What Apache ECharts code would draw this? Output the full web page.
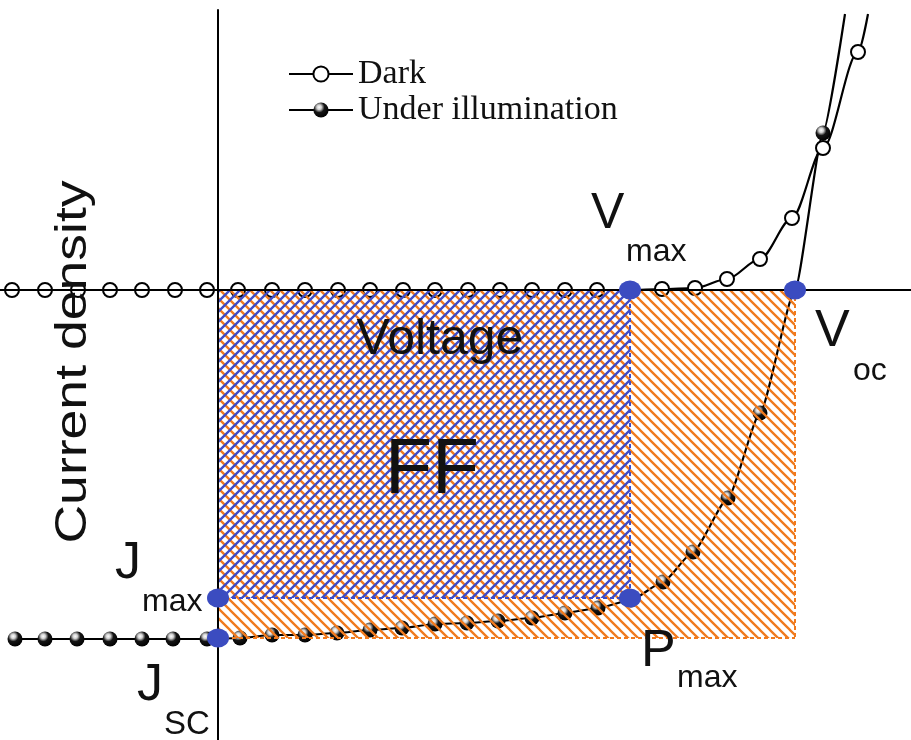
<!DOCTYPE html>
<html>
<head>
<meta charset="utf-8">
<style>
  html, body { margin: 0; padding: 0; background: #fff; }
  #chart { width: 911px; height: 740px; }
</style>
<script src="https://cdn.jsdelivr.net/npm/echarts@6/dist/echarts.min.js"></script>
</head>
<body>
<div id="chart"></div>
<script>
// ---- data (arbitrary units: voltage on x, current density on y) ----
var darkV = [-2.06, -1.73, -1.40, -1.08, -0.76, -0.43, -0.11, 0.20, 0.54, 0.87, 1.20, 1.52, 1.85, 2.17, 2.50, 2.82, 3.14, 3.47, 3.79, 4.12, 4.44, 4.77, 5.09, 5.42, 5.74, 6.05, 6.40, 6.50];
var darkJ = [0, 0, 0, 0, 0, 0, 0, 0, 0, 0, 0, 0, 0, 0, 0, 0, 0, 0, 0, 0, 0.01, 0.02, 0.11, 0.31, 0.72, 1.42, 2.38, 2.76];

var illumV = [-2.03, -1.73, -1.41, -1.08, -0.76, -0.45, -0.11, 0.22, 0.54, 0.87, 1.19, 1.52, 1.84, 2.17, 2.49, 2.80, 3.14, 3.47, 3.80, 4.13, 4.45, 4.75, 5.10, 5.42, 5.77, 6.05, 6.27];
var illumJ = [-3.49, -3.49, -3.49, -3.49, -3.49, -3.49, -3.49, -3.48, -3.45, -3.45, -3.43, -3.40, -3.38, -3.34, -3.33, -3.31, -3.28, -3.23, -3.18, -3.10, -2.92, -2.62, -2.08, -1.23, 0, 1.57, 2.76];

// key points
var Voc = 5.77, Jsc = -3.48, Vmax = 4.12, Jmax = -3.08;
var keyPointNames = ['Jsc', 'Jmax', 'Vmax', 'Pmax', 'Voc'];
var keyPointV = [0, 0, Vmax, Vmax, Voc];
var keyPointJ = [Jsc, Jmax, 0, Jmax, 0];

// rectangles: [x0, y0, x1, y1]
var orangeRegion = [[0, Jsc, Voc, 0]];
var blueRegion = [[0, Jmax, Vmax, 0]];

var seriesNames = ['Dark', 'Under illumination'];

// ---- styling ----
var ORANGE = '#F07A1E';
var BLUE_LINE = '#3F4CC6';
var BLUE_DOT = '#3B4CC0';
var SANS = '"Liberation Sans", Arial, sans-serif';
var SERIF = '"Liberation Serif", "Times New Roman", serif';

function makeHatch(color, dir) {
  var s = 10;
  var c = document.createElement('canvas');
  c.width = s; c.height = s;
  var g = c.getContext('2d');
  g.strokeStyle = color;
  g.lineWidth = 2.3;
  g.beginPath();
  if (dir === 'back') {
    g.moveTo(-2, -2); g.lineTo(s + 2, s + 2);
    g.moveTo(-2, s - 2); g.lineTo(2, s + 2);
    g.moveTo(s - 2, -2); g.lineTo(s + 2, 2);
  } else {
    g.moveTo(-2, s + 2); g.lineTo(s + 2, -2);
    g.moveTo(-2, 2); g.lineTo(2, -2);
    g.moveTo(s - 2, s + 2); g.lineTo(s + 2, s - 2);
  }
  g.stroke();
  return { image: c, repeat: 'repeat' };
}
var orangePattern = makeHatch(ORANGE, 'back');
var bluePattern = makeHatch(BLUE_LINE, 'fwd');

function pairs(xs, ys) {
  return xs.map(function (x, i) {
    var item = { value: [x, ys[i]] };
    if (i === xs.length - 1) item.symbol = 'none';
    return item;
  });
}

function regionRenderer(pattern, edgeColor) {
  return function (params, api) {
    var x0 = api.value(0), y0 = api.value(1), x1 = api.value(2), y1 = api.value(3);
    var pTL = api.coord([x0, y1]);
    var pBR = api.coord([x1, y0]);
    var dash = { stroke: edgeColor, lineWidth: 2, lineDash: [4, 3] };
    return {
      type: 'group',
      children: [
        { type: 'rect', shape: { x: pTL[0], y: pTL[1], width: pBR[0] - pTL[0], height: pBR[1] - pTL[1] },
          style: { fill: pattern } },
        { type: 'line', shape: { x1: pBR[0], y1: pTL[1], x2: pBR[0], y2: pBR[1] }, style: dash },
        { type: 'line', shape: { x1: pTL[0], y1: pBR[1], x2: pBR[0], y2: pBR[1] }, style: dash }
      ]
    };
  };
}

var sphere = {
  type: 'radial', x: 0.38, y: 0.32, r: 0.7,
  colorStops: [
    { offset: 0, color: '#ffffff' },
    { offset: 0.22, color: '#d0d0d0' },
    { offset: 0.5, color: '#151515' },
    { offset: 1, color: '#000000' }
  ]
};

function txt(text, x, y, size, extra) {
  var o = {
    type: 'text', x: x, y: y, z: 100,
    style: { text: text, fontSize: size, fontFamily: SANS, fill: '#111',
             textAlign: 'left', textVerticalAlign: 'middle' }
  };
  if (extra) { for (var k in extra) { if (k === 'style') { for (var s in extra.style) o.style[s] = extra.style[s]; } else o[k] = extra[k]; } }
  return o;
}

var chart = echarts.init(document.getElementById('chart'), null, { renderer: 'canvas' });
chart.setOption({
  animation: false,
  backgroundColor: '#ffffff',
  grid: { left: 0, right: 0, top: 10, bottom: 0, containLabel: false },
  xAxis: {
    type: 'value', min: -2.18, max: 6.93, z: 5,
    axisLine: { show: true, onZero: true, lineStyle: { color: '#000', width: 2 } },
    axisTick: { show: false }, axisLabel: { show: false }, splitLine: { show: false }
  },
  yAxis: {
    type: 'value', min: -4.5, max: 2.8, z: 5,
    axisLine: { show: true, onZero: true, lineStyle: { color: '#000', width: 2 } },
    axisTick: { show: false }, axisLabel: { show: false }, splitLine: { show: false }
  },
  legend: {
    data: seriesNames,
    orient: 'vertical', left: 283, top: 51,
    itemWidth: 64, itemHeight: 19, itemGap: 0,
    textStyle: { fontFamily: SERIF, fontSize: 34, color: '#111', lineHeight: 36 }
  },
  series: [
    {
      name: seriesNames[0], type: 'line', z: 2,
      data: pairs(darkV, darkJ),
      smooth: 0.3, smoothMonotone: 'x',
      symbol: 'circle', symbolSize: 14,
      lineStyle: { color: '#000', width: 2.2 },
      itemStyle: { color: '#fff', borderColor: '#000', borderWidth: 2 }
    },
    {
      name: seriesNames[1], type: 'line', z: 2,
      data: pairs(illumV, illumJ),
      smooth: 0.18, smoothMonotone: 'x',
      symbol: 'circle', symbolSize: 15,
      lineStyle: { color: '#000', width: 2.2 },
      itemStyle: { color: sphere, borderWidth: 0 }
    },
    {
      type: 'custom', z: 3, silent: true,
      data: orangeRegion,
      encode: { x: [0, 2], y: [1, 3] },
      renderItem: regionRenderer(orangePattern, ORANGE)
    },
    {
      type: 'custom', z: 4, silent: true,
      data: blueRegion,
      encode: { x: [0, 2], y: [1, 3] },
      renderItem: regionRenderer(bluePattern, BLUE_LINE)
    },
    {
      type: 'scatter', z: 10,
      data: keyPointV.map(function (v, i) { return { name: keyPointNames[i], value: [v, keyPointJ[i]] }; }),
      symbol: 'circle', symbolSize: [22, 19],
      itemStyle: { color: BLUE_DOT, opacity: 1 }
    }
  ],
  graphic: [
    txt('Current density', 74, 362, 45, { rotation: Math.PI / 2, scaleX: 1.19, style: { textAlign: 'center' } }),
    txt('Voltage', 440, 340, 50, { style: { textAlign: 'center' } }),
    txt('FF', 432, 472, 77, { style: { textAlign: 'center' } }),
    txt('V', 591, 214, 50),
    txt('max', 626, 252, 32),
    txt('V', 815, 332, 52),
    txt('oc', 853, 371, 32),
    txt('J', 115, 564, 52),
    txt('max', 142, 602, 32),
    txt('J', 137, 686, 52),
    txt('SC', 164, 725, 33),
    txt('P', 641, 652, 52),
    txt('max', 677, 678, 32)
  ]
});
</script>
</body>
</html>
